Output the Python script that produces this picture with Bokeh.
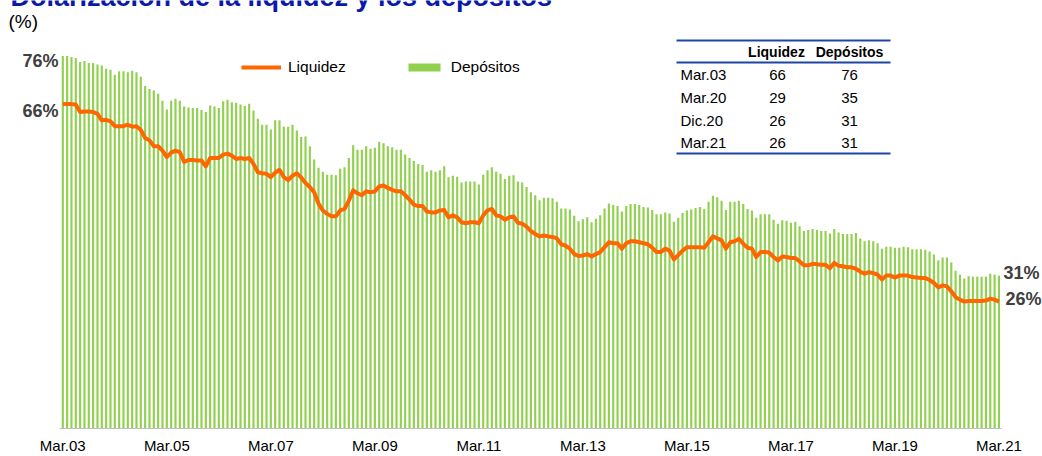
from bokeh.plotting import figure
from bokeh.models import ColumnDataSource, FixedTicker, Legend, LegendItem
from bokeh.embed import file_html
from bokeh.resources import INLINE
from bokeh.core.properties import value

# ---------------- data ----------------
tick_labels = ["Mar.03", "Mar.05", "Mar.07", "Mar.09", "Mar.11",
               "Mar.13", "Mar.15", "Mar.17", "Mar.19", "Mar.21"]

depositos = [
    76.0, 76.0, 75.8, 75.6, 74.8, 75.0, 74.6, 74.6, 74.3, 74.1, 73.4, 73.2, 72.2, 72.9, 72.9, 72.7,
    73.0, 72.7, 71.8, 69.9, 69.3, 69.0, 68.3, 66.9, 65.1, 66.9, 67.3, 66.9, 65.7, 65.5, 65.4, 65.4,
    65.0, 64.6, 65.9, 65.7, 65.4, 66.8, 67.1, 66.6, 66.5, 66.1, 65.8, 66.3, 64.9, 63.2, 62.0, 62.0,
    61.0, 62.9, 62.9, 61.6, 61.6, 62.0, 60.8, 59.5, 59.6, 57.6, 54.9, 53.2, 52.4, 51.8,
    51.8, 51.7, 53.0, 53.3, 55.2, 57.8, 56.9, 56.9, 57.6, 57.1, 57.3, 58.5, 58.2, 57.6, 57.4, 56.9,
    56.9, 55.9, 55.2, 54.6, 54.0, 53.8, 52.4, 52.7, 52.4, 52.7, 53.5, 51.3, 51.6, 51.4, 50.2, 50.4,
    50.4, 50.4, 49.8, 51.8, 52.7, 53.3, 52.4, 52.0, 50.9, 51.6, 51.7, 50.4, 50.2, 49.3, 48.2, 47.6,
    46.6, 47.1, 47.1, 47.0, 46.3, 44.9, 44.9, 44.7, 43.4, 42.3, 42.7, 43.1, 42.1, 42.8, 43.5, 44.9,
    45.9, 45.6, 45.4, 44.3, 45.4, 45.8, 45.8, 45.6, 45.2, 45.1,
    44.6, 43.7, 43.7, 44.1, 43.9, 42.2, 43.0, 44.0, 44.5, 44.7, 45.0, 45.2, 44.8, 46.3, 47.5, 47.2,
    46.5, 44.6, 46.3, 46.3, 46.5, 45.8, 44.8, 44.5, 43.0, 43.7, 43.7, 43.7, 42.6, 41.8, 42.5, 42.4,
    42.0, 42.2, 41.3, 40.3, 40.5, 40.7, 40.5, 40.3, 40.3, 39.8, 40.7, 40.0, 39.7, 39.7, 39.7, 39.9,
    38.8, 38.2, 38.4, 38.2, 37.8, 36.7, 37.1, 37.1, 36.9, 36.9, 37.1, 37.0, 36.6, 36.6, 36.6, 36.5,
    36.1, 35.5, 34.3, 34.9, 34.9, 33.9, 32.2, 31.4, 30.6, 31.1, 31.0, 31.0, 31.0, 31.0, 31.6, 31.4,
    31.2,
]

liquidez = [
    66.2, 66.2, 66.2, 66.1, 64.6, 64.7, 64.7, 64.6, 64.2, 62.9, 63.0, 62.7, 61.7, 61.7, 61.7, 62.0,
    61.6, 61.7, 60.9, 59.3, 58.8, 57.6, 57.6, 56.7, 55.4, 56.3, 56.7, 56.4, 54.4, 54.8, 54.8, 54.7,
    54.7, 53.5, 55.2, 55.2, 55.2, 55.9, 56.1, 55.7, 55.0, 55.2, 55.0, 55.2, 54.0, 52.3, 52.1, 52.0,
    51.3, 52.2, 52.8, 51.3, 50.7, 51.6, 52.1, 51.2, 50.1, 49.3, 48.2, 45.9, 44.5, 43.8, 43.3,
    43.3, 44.5, 44.8, 46.5, 48.6, 48.0, 47.6, 48.4, 48.2, 48.4, 49.4, 49.6, 49.1, 48.7, 48.4, 48.4,
    47.6, 46.7, 45.7, 45.4, 45.4, 44.3, 44.1, 44.1, 44.5, 44.6, 43.1, 43.5, 43.1, 42.1, 41.9, 42.1,
    42.1, 41.9, 43.5, 44.5, 44.8, 43.5, 43.3, 42.6, 43.1, 43.3, 42.0, 41.8, 41.2, 40.3, 39.7, 39.2,
    39.4, 39.2, 39.1, 38.8, 37.6, 37.3, 36.7, 35.6, 35.2, 35.3, 35.6, 35.1, 35.6, 36.0, 37.0, 38.0,
    37.8, 37.8, 36.7, 37.8, 38.2, 38.2, 38.0, 37.8, 37.6,
    36.9, 36.0, 36.0, 36.7, 36.3, 34.5, 35.4, 36.3, 37.0, 37.0, 37.0, 37.0, 36.9, 38.0, 39.2, 38.8,
    38.4, 36.7, 38.0, 38.2, 38.7, 37.7, 36.9, 36.7, 35.0, 36.0, 36.0, 35.9, 35.0, 34.3, 35.1, 35.0,
    34.8, 34.8, 34.1, 33.3, 33.3, 33.6, 33.5, 33.4, 33.4, 32.7, 33.8, 33.2, 33.1, 32.9, 32.9, 32.6,
    32.0, 31.6, 31.9, 31.7, 31.4, 30.4, 31.2, 31.2, 30.8, 31.2, 31.2, 31.2, 30.9, 30.8, 30.7, 30.7,
    30.3, 29.7, 28.8, 29.2, 29.0, 28.0, 26.8, 26.3, 25.9, 26.0, 26.0, 26.0, 26.0, 26.1, 26.5, 26.3,
    25.9,
]

table_rows = ["Mar.03", "Mar.20", "Dic.20", "Mar.21"]
table_liquidez = [66, 29, 26, 26]
table_depositos = [76, 35, 31, 31]
table_header = ["Liquidez", "Depósitos"]

title_text = "Dolarización de la liquidez y los depósitos"
unit_text = "(%)"

# ---------------- layout helpers (canvas pixels -> data) ----------------
W, H = 1042, 456
PX = 4.334        # px per month
PY = 4.9          # px per percentage point
X0 = 62.3         # canvas x of first month
BASE = 428.0      # canvas y of 0 %

def X(px):
    return (px - X0) / PX

def Y(py):
    return (BASE - py) / PY

months = list(range(len(depositos)))
src = ColumnDataSource(dict(m=months, dep=depositos, liq=liquidez))

p = figure(width=W, height=H, output_backend="svg", toolbar_location=None,
           x_range=(X(0), X(W)), y_range=(Y(H), Y(0)),
           min_border=0, min_border_left=0, min_border_right=0,
           min_border_top=0, min_border_bottom=0,
           outline_line_color=None, background_fill_color="white")

bars = p.vbar(x="m", top="dep", bottom=0, width=0.5, source=src,
              fill_color="#92D050", line_color=None)
line = p.line(x="m", y="liq", source=src, line_color="#FF6600",
              line_width=4, line_join="round")

# axes
p.yaxis.visible = False
p.xgrid.visible = False
p.ygrid.visible = False
ticks = [i * 24 for i in range(len(tick_labels))]
xa = p.xaxis[0]
xa.fixed_location = 0
xa.ticker = FixedTicker(ticks=ticks)
xa.major_label_overrides = {t: lab for t, lab in zip(ticks, tick_labels)}
xa.axis_line_color = "#BFBFBF"
xa.axis_line_width = 1
xa.bounds = (-0.7, len(months) - 0.3)
xa.major_tick_line_color = None
xa.minor_tick_line_color = None
xa.major_label_standoff = 2
xa.major_label_text_font = "Liberation Sans"
xa.major_label_text_font_size = "15px"
xa.major_label_text_color = "#000000"

FONT = value("Liberation Sans")

# end labels
p.text(x=[X(58), X(58)], y=[Y(60), Y(110)],
       text=[f"{depositos[0]:.0f}%", f"{liquidez[0]:.0f}%"],
       text_align="right", text_baseline="middle", text_font=FONT,
       text_font_style="bold", text_font_size="18px", text_color="#404040")
p.text(x=[X(1003), X(1005)], y=[Y(272), Y(298)],
       text=[f"{depositos[-1]:.0f}%", f"{liquidez[-1]:.0f}%"],
       text_align="left", text_baseline="middle", text_font=FONT,
       text_font_style="bold", text_font_size="18px", text_color="#404040")

# title (cut at the top, as in the source) and unit
p.text(x=[X(10)], y=[Y(-4)], text=[title_text], text_align="left",
       text_baseline="alphabetic", text_font=FONT, text_font_style="bold",
       text_font_size="27px", text_color="#0A1AA8")
p.text(x=[X(8)], y=[Y(21)], text=[unit_text], text_align="left",
       text_baseline="middle", text_font=FONT, text_font_size="19px",
       text_color="#000000")

# table
BLUE = "#1C46A6"
p.segment(x0=[X(676)] * 3, x1=[X(890)] * 3, y0=[Y(40), Y(62), Y(153)],
          y1=[Y(40), Y(62), Y(153)], line_color=BLUE, line_width=2.2)
p.text(x=[X(776), X(849)], y=[Y(51), Y(51)], text=table_header,
       text_align="center", text_baseline="middle", text_font=FONT,
       text_font_style="bold", text_font_size="14px", text_color="#000000")
row_y = [Y(v) for v in (74, 97, 120, 142)]
p.text(x=[X(680)] * 4, y=row_y, text=table_rows, text_align="left",
       text_baseline="middle", text_font=FONT, text_font_size="15px",
       text_color="#000000")
p.text(x=[X(777)] * 4, y=row_y, text=[str(v) for v in table_liquidez],
       text_align="center", text_baseline="middle", text_font=FONT,
       text_font_size="15px", text_color="#000000")
p.text(x=[X(849)] * 4, y=row_y, text=[str(v) for v in table_depositos],
       text_align="center", text_baseline="middle", text_font=FONT,
       text_font_size="15px", text_color="#000000")

# legend
legend = Legend(items=[LegendItem(label="Liquidez", renderers=[line]),
                       LegendItem(label="Depósitos", renderers=[bars])],
                orientation="horizontal",
                location=(241, H - 75.5),
                padding=0, margin=0, spacing=58,
                glyph_width=40, glyph_height=10, label_standoff=7,
                border_line_color=None, background_fill_alpha=0,
                label_text_font="Liberation Sans", label_text_font_size="15.5px",
                label_text_color="#000000")
p.add_layout(legend, "center")

open("out.html", "w").write(file_html(p, INLINE))
